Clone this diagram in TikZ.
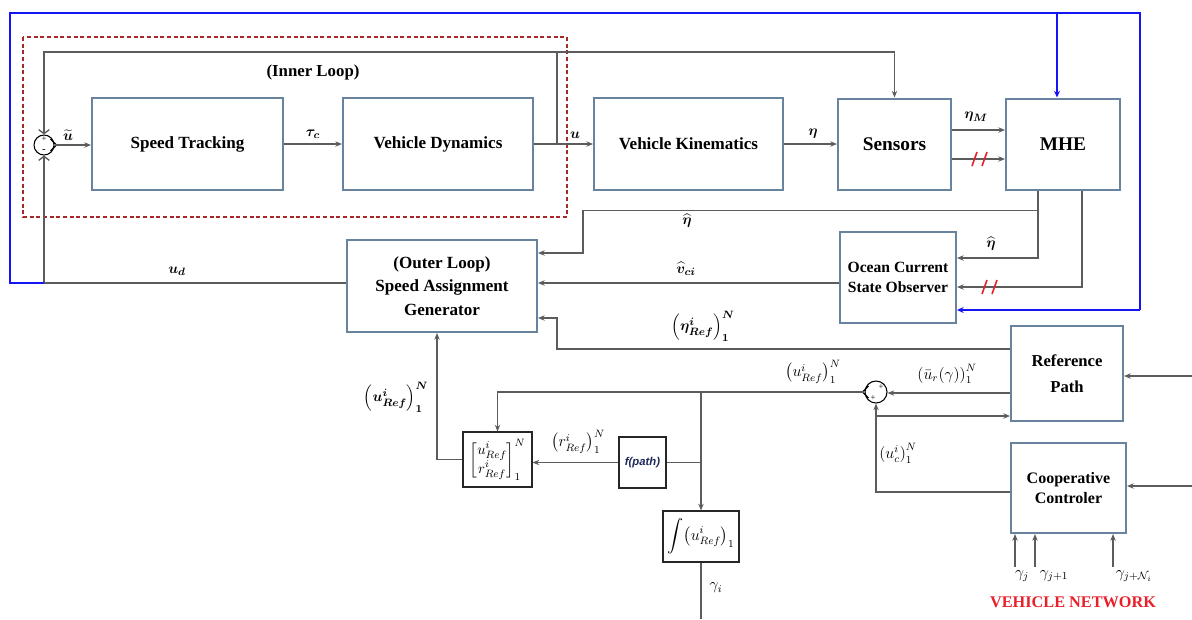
\documentclass[tikz,border=0pt]{standalone}
\usepackage{amsmath,bm}
\usepackage{fontspec}
\setmainfont{Liberation Serif}
\newfontfamily\fpathfont{Liberation Sans}
\usetikzlibrary{arrows.meta,calc}

\definecolor{blockline}{HTML}{67839E}
\definecolor{wiregray}{HTML}{5C5C5C}
\definecolor{netblue}{HTML}{1414F5}
\definecolor{loopred}{HTML}{A82828}
\definecolor{netred}{HTML}{E8202A}
\definecolor{fpathblue}{HTML}{1F2A5A}

\begin{document}
\begin{tikzpicture}[x=0.75pt,y=-0.75pt,
  block/.style={draw=blockline, line width=1.5pt, fill=white, inner sep=0pt,
    align=center, font=\bfseries\fontsize{12.8}{17}\selectfont},
  smallbox/.style={draw=black!85, line width=0.8pt, fill=white, inner sep=0pt, align=center},
  wire/.style={draw=wiregray, line width=0.9pt},
  arr/.style={wire, -{Stealth[length=5pt,width=4pt]}},
  barb/.style={wire, -{Straight Barb[length=3pt,width=8pt,line width=1pt]}},
  bluewire/.style={draw=netblue, line width=2.2pt},
  bluearr/.style={bluewire, -{Stealth[length=5pt,width=4.5pt]}},
  lbl/.style={inner sep=1pt, font=\fontsize{11}{13}\selectfont},
  lblb/.style={inner sep=1pt, font=\fontsize{12}{14}\selectfont},
  sumnode/.style={circle, draw=black, line width=0.8pt, fill=white, inner sep=0pt},
  cut/.style={draw=netred, line width=1.2pt},
]
\path[use as bounding box] (0,0) rectangle (1192,619);

% inner loop frame
\draw[draw=loopred, line width=0.9pt, dash pattern=on 3pt off 2pt] (23,37) rectangle (567,217);
\node[font=\bfseries\fontsize{12.6}{14}\selectfont] (inner) at (313,72) {(Inner Loop)};

% main blocks
\node[block, minimum width=143.25pt, minimum height=69pt] (st) at (187.5,144) {Speed Tracking};
\node[block, minimum width=142.5pt, minimum height=69pt] (vd) at (438,144) {Vehicle Dynamics};
\node[block, minimum width=141.75pt, minimum height=69pt] (vk) at (688.5,144) {Vehicle Kinematics};
\node[block, minimum width=84.75pt, minimum height=68.25pt, font=\bfseries\fontsize{14.5}{17}\selectfont] (sen) at (894.5,144) {Sensors};
\node[block, minimum width=85.5pt, minimum height=68.25pt, font=\bfseries\fontsize{14.5}{17}\selectfont] (mhe) at (1063,144) {MHE};
\node[block, minimum width=87pt, minimum height=68.25pt, font=\bfseries\fontsize{11.7}{15}\selectfont] (obs) at (898,277.5) {Ocean Current\\State Observer};
\node[block, minimum width=142.5pt, minimum height=69pt, font=\bfseries\fontsize{12.8}{17.5}\selectfont] (sag) at (442,286) {(Outer Loop)\\Speed Assignment\\Generator};
\node[block, minimum width=84pt, minimum height=71.25pt, font=\bfseries\fontsize{12.5}{19.5}\selectfont] (rp) at (1067,373.5) {Reference\\Path};
\node[block, minimum width=86.25pt, minimum height=67.5pt, font=\bfseries\fontsize{12}{15}\selectfont] (coop) at (1068.5,488) {Cooperative\\Controler};

% small blocks
\node[smallbox, minimum width=51.75pt, minimum height=41.25pt, font=\fontsize{11}{12}\selectfont] (mat) at (497.5,459.5)
  {$\begin{bmatrix} u^{i}_{Ref}\\ r^{i}_{Ref}\end{bmatrix}_{1}^{N}$};
\node[smallbox, minimum width=35.25pt, minimum height=38.25pt, font=\fpathfont\bfseries\itshape\fontsize{8.5}{10}\selectfont, text=fpathblue] (fp) at (642.5,462.5) {f(path)};
\node[smallbox, minimum width=57pt, minimum height=38.25pt, font=\fontsize{12}{13}\selectfont] (integ) at (701,536.5) {$\displaystyle\int\!\left(u^{i}_{Ref}\right)_{1}$};

% summing junctions
\node[sumnode, minimum size=15pt] (j1) at (44,145) {};
\node[font=\fontsize{6.5}{6.5}\selectfont, inner sep=0pt] at (44,139) {+};
\node[font=\fontsize{8}{8}\selectfont, inner sep=0pt] at (44,151) {-};
\draw[black, line width=1pt] ($(j1.east)+(-4,-6)$) -- ($(j1.east)+(2,0)$) -- ($(j1.east)+(-4,6)$);

\node[sumnode, minimum size=16.5pt] (j2) at (876,392) {};
\node[font=\fontsize{6.5}{6.5}\selectfont, inner sep=0pt] at (881,387) {+};
\node[font=\fontsize{6.5}{6.5}\selectfont, inner sep=0pt] at (873,398) {+};
\draw[black, line width=1pt] ($(j2.west)+(4,-6)$) -- ($(j2.west)+(-2,0)$) -- ($(j2.west)+(4,6)$);

% inner loop signal chain
\draw[arr] (j1.east) -- (j1.east -| st.west);
\node[lbl] at (68,135) {$\widetilde{\bm{u}}$};
\draw[arr] (st.east) -- (vd.west);
\node[lbl] at (313,134) {$\bm{\tau_c}$};
\coordinate (tap) at (557,144);
\draw[arr] (vd.east) -- (vk.west);
\node[lbl] at (575,135) {$\bm{u}$};
\coordinate (fbtop) at (557,52);
\coordinate (fbleft) at (44,52);
\draw[barb] (tap) -- (fbtop) -- (fbleft) -- (j1.north);
\draw[arr] (fbtop) -| (sen.north);
\draw[arr] (vk.east) -- (sen.west);
\node[lbl] at (813,134) {$\bm{\eta}$};

% sensors to MHE
\draw[arr] ($(sen.east)+(0,-14)$) -- ($(mhe.west)+(0,-14)$);
\node[lbl] at (976,117) {$\bm{\eta_M}$};
\draw[arr] ($(sen.east)+(0,15)$) -- ($(mhe.west)+(0,15)$);
\draw[cut] (972,166) -- (977,152);
\draw[cut] (982,166) -- (987,152);

% MHE outputs
\coordinate (ma) at ($(mhe.south)+(-25,0)$);
\coordinate (mb) at ($(mhe.south)+(19,0)$);
\coordinate (obsA) at ($(obs.east)+(0,-19.5)$);
\coordinate (obsB) at ($(obs.east)+(0,9.5)$);
\draw[arr] (ma) |- (obsA);
\node[lbl] at (991,244) {$\widehat{\bm{\eta}}$};
\draw[arr] (mb) |- (obsB);
\draw[cut] (982,294) -- (987,280);
\draw[cut] (992,294) -- (997,280);
\coordinate (brA) at ($(ma)+(0,20)$);
\coordinate (brL) at (583,0);
\coordinate (sagA) at ($(sag.east)+(0,-33)$);
\draw[arr] (brA) -- (brA -| brL) |- (sagA);
\node[lbl] at (687,221) {$\widehat{\bm{\eta}}$};

% observer to speed assignment
\coordinate (vci) at ($(obs.west)+(0,5.5)$);
\draw[arr] (vci) -- (vci -| sag.east);
\node[lbl] at (686,269) {$\widehat{\bm{v}}_{\bm{ci}}$};

% outer loop command
\coordinate (ud) at ($(sag.west)+(0,-3)$);
\coordinate (udc) at (44,283);
\draw[wire] (ud) -- (udc);
\draw[barb] (udc) -- (j1.south);
\node[lbl] at (177,271) {$\bm{u_d}$};

% estimate feedback (blue)
\coordinate (bl) at (10,283);
\coordinate (btl) at (10,13);
\coordinate (btr) at (1140,13);
\coordinate (bbr) at (1140,310);
\coordinate (bm) at (1057,13);
\draw[bluewire] (udc) -- (bl) -- (btl) -- (btr) -- (bbr);
\draw[bluearr] (bbr) -- (bbr -| obs.east);
\draw[bluearr] (bm) -- (bm |- mhe.north);

% reference path to speed assignment
\coordinate (rpA) at ($(rp.west)+(0,-24.5)$);
\coordinate (rpL) at (557,0);
\coordinate (sagB) at ($(sag.east)+(0,32)$);
\draw[arr] (rpA) -- (rpA -| rpL) |- (sagB);
\node[lbl] at (703,326) {$\left(\bm{\eta}^{\bm{i}}_{\bm{Ref}}\right)_{\bm{1}}^{\bm{N}}$};

% speed composition
\coordinate (rpB) at ($(rp.west)+(0,19.5)$);
\draw[arr] (rpB) -- (rpB -| j2.east);
\node[lblb] at (947,374) {$\left(\bar{u}_{r}(\gamma)\right)_{1}^{N}$};
\coordinate (coopA) at ($(coop.west)+(0,4)$);
\draw[arr] (coopA) -| (j2.south);
\node[lblb] at (898,453) {$\left(u^{i}_{c}\right)_{1}^{N}$};
\coordinate (rpC) at ($(rp.west)+(0,42.5)$);
\draw[arr] (rpC -| j2) -- (rpC);
\node[lblb] at (813,372) {$\left(u^{i}_{Ref}\right)_{1}^{N}$};

% reference speed distribution
\coordinate (br2) at (701,393);
\draw[arr] (j2.west) -| (mat.north);
\draw[arr] (br2) -- (integ.north);
\draw[wire] (fp.east) -- (fp.east -| br2);
\draw[arr] (fp.west) -- (fp.west -| mat.east);
\node[lblb] at (578,442) {$\left(r^{i}_{Ref}\right)_{1}^{N}$};
\coordinate (sagC) at ($(sag.south)+(-5,0)$);
\draw[arr] (mat.west) -| (sagC);
\node[lbl] at (396,397) {$\left(\bm{u}^{\bm{i}}_{\bm{Ref}}\right)_{\bm{1}}^{\bm{N}}$};
\coordinate (gout) at (701,619);
\draw[wire] (integ.south) -- (gout);
\node[lblb] at (716,588) {$\gamma_i$};

% external inputs
\coordinate (rpin) at (1192,376);
\coordinate (coopin) at (1192,486);
\draw[arr] (rpin) -- (rpin -| rp.east);
\draw[arr] (coopin) -- (coopin -| coop.east);
\coordinate (g1) at (1015,567);
\coordinate (g2) at (1035,567);
\coordinate (g3) at (1113,567);
\draw[arr] (g1) -- (g1 |- coop.south);
\draw[arr] (g2) -- (g2 |- coop.south);
\draw[arr] (g3) -- (g3 |- coop.south);
\node[lblb] at (1022,576) {$\gamma_j$};
\node[lblb] at (1054,576) {$\gamma_{j+1}$};
\node[lblb] at (1134,576) {$\gamma_{j+\mathcal{N}_i}$};
\node[font=\bfseries\fontsize{12.2}{14}\selectfont, text=netred] (vnet) at (1073,602) {VEHICLE NETWORK};
\end{tikzpicture}
\end{document}
